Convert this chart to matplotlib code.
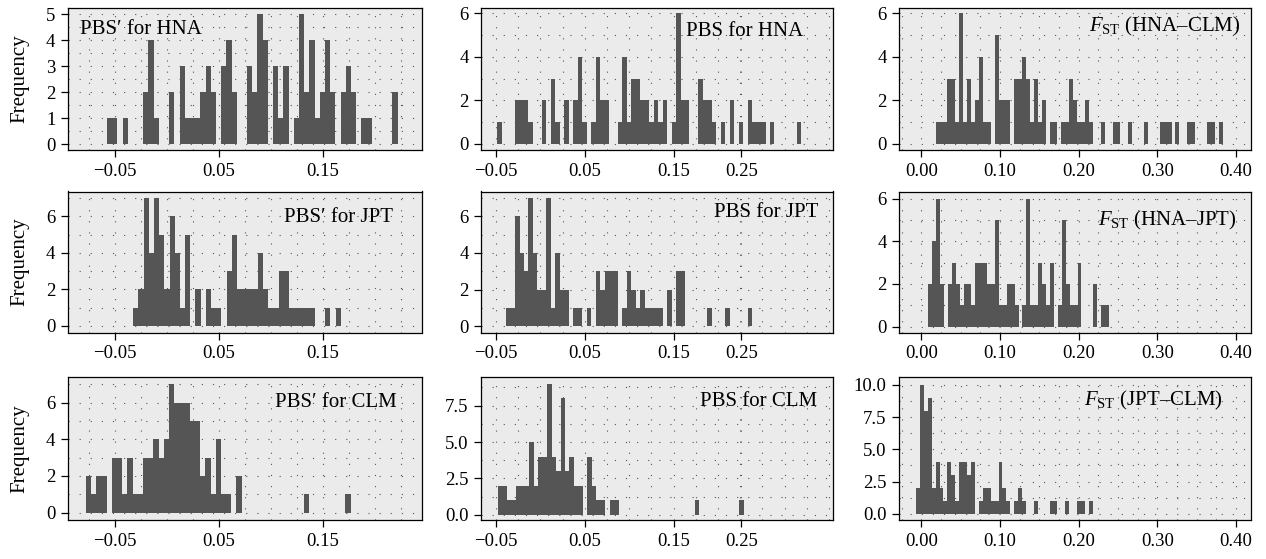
import numpy as np
import matplotlib
matplotlib.use("Agg")
import matplotlib.pyplot as plt
from matplotlib.ticker import MultipleLocator, FormatStrFormatter

plt.rcParams['font.family'] = ['Liberation Serif', 'DejaVu Serif']
plt.rcParams['mathtext.fontset'] = 'custom'
plt.rcParams['mathtext.rm'] = 'Liberation Serif'
plt.rcParams['mathtext.it'] = 'Liberation Serif:italic'

# histogram counts, one value per bin, starting at the given left edge
pbsp_hna_start, pbsp_hna_width = -0.0578, 0.005
pbsp_hna = [1, 1, 0, 1, 0, 0, 0, 2, 4, 1,
            0, 0, 2, 0, 3, 1, 1, 1, 2, 3,
            2, 0, 3, 4, 2, 0, 0, 3, 2, 5,
            4, 0, 3, 1, 3, 0, 1, 5, 2, 4,
            1, 2, 4, 2, 0, 2, 3, 2, 0, 1,
            1, 0, 0, 0, 0, 2]

pbs_hna_start, pbs_hna_width = -0.0489, 0.00504
pbs_hna = [1, 0, 0, 0, 2, 2, 2, 1, 0, 0,
           2, 0, 3, 1, 0, 2, 0, 2, 4, 1,
           0, 1, 4, 2, 2, 0, 0, 1, 4, 1,
           3, 3, 2, 2, 1, 2, 1, 2, 0, 1,
           6, 2, 2, 0, 0, 3, 2, 2, 1, 0,
           1, 0, 2, 0, 1, 0, 2, 1, 1, 1,
           0, 1, 0, 0, 0, 0, 0, 1]

fst_hna_clm_start, fst_hna_clm_width = 0.018, 0.005
fst_hna_clm = [1, 1, 1, 3, 3, 1, 6, 1, 3, 1,
               2, 4, 1, 1, 0, 5, 2, 2, 2, 0,
               3, 3, 4, 3, 1, 3, 1, 2, 0, 1,
               1, 0, 1, 1, 3, 2, 1, 1, 2, 1,
               0, 0, 1, 0, 0, 1, 1, 0, 0, 1,
               0, 0, 0, 1, 0, 0, 0, 1, 1, 1,
               0, 1, 0, 0, 1, 1, 0, 0, 0, 1,
               1, 0, 1]

pbsp_jpt_start, pbsp_jpt_width = -0.0325, 0.005
pbsp_jpt = [1, 2, 7, 4, 7, 5, 2, 6, 4, 1,
            5, 0, 2, 0, 2, 1, 1, 0, 3, 5,
            2, 2, 2, 2, 4, 2, 1, 1, 3, 3,
            1, 1, 1, 1, 1, 0, 0, 1, 0, 1]

pbs_jpt_start, pbs_jpt_width = -0.0387, 0.00504
pbs_jpt = [1, 1, 6, 4, 3, 7, 4, 2, 2, 7,
           1, 4, 2, 2, 0, 1, 1, 0, 1, 0,
           3, 2, 3, 3, 3, 0, 1, 3, 2, 1,
           2, 1, 1, 1, 1, 0, 2, 0, 3, 3,
           0, 0, 0, 0, 0, 1, 0, 0, 0, 1,
           0, 0, 0, 0, 1]

fst_hna_jpt_start, fst_hna_jpt_width = 0.0085, 0.005
fst_hna_jpt = [2, 4, 6, 2, 0, 2, 3, 2, 1, 2,
               2, 1, 3, 3, 3, 2, 2, 5, 1, 1,
               2, 2, 1, 0, 1, 6, 1, 1, 3, 2,
               1, 3, 0, 1, 5, 2, 1, 1, 3, 0,
               0, 0, 2, 0, 1, 1]

pbsp_clm_start, pbsp_clm_width = -0.0780, 0.005
pbsp_clm = [2, 1, 2, 2, 0, 3, 3, 1, 3, 1,
            1, 3, 3, 4, 3, 4, 7, 6, 6, 6,
            5, 5, 2, 3, 1, 4, 1, 1, 0, 2,
            0, 0, 0, 0, 0, 0, 0, 0, 0, 0,
            0, 0, 1, 0, 0, 0, 0, 0, 0, 0,
            1]

pbs_clm_start, pbs_clm_width = -0.0480, 0.00504
pbs_clm = [2, 2, 1, 1, 2, 2, 2, 5, 2, 4,
           4, 9, 4, 3, 8, 3, 4, 2, 2, 0,
           4, 2, 1, 1, 0, 1, 1, 0, 0, 0,
           0, 0, 0, 0, 0, 0, 0, 0, 0, 0,
           0, 0, 0, 0, 1, 0, 0, 0, 0, 0,
           0, 0, 0, 0, 1]

fst_jpt_clm_start, fst_jpt_clm_width = -0.0070, 0.005
fst_jpt_clm = [2, 10, 8, 9, 2, 4, 2, 1, 4, 3,
               1, 4, 4, 3, 4, 0, 1, 2, 2, 1,
               1, 4, 2, 1, 0, 1, 2, 1, 0, 0,
               1, 0, 0, 0, 1, 1, 0, 0, 1, 0,
               0, 1, 1, 0, 1]

titles = [["PBS\u2032 for HNA", "PBS for HNA", "$F_{\\mathrm{ST}}$ (HNA\u2013CLM)"],
          ["PBS\u2032 for JPT", "PBS for JPT", "$F_{\\mathrm{ST}}$ (HNA\u2013JPT)"],
          ["PBS\u2032 for CLM", "PBS for CLM", "$F_{\\mathrm{ST}}$ (JPT\u2013CLM)"]]

data = [[(pbsp_hna, pbsp_hna_start, pbsp_hna_width),
         (pbs_hna, pbs_hna_start, pbs_hna_width),
         (fst_hna_clm, fst_hna_clm_start, fst_hna_clm_width)],
        [(pbsp_jpt, pbsp_jpt_start, pbsp_jpt_width),
         (pbs_jpt, pbs_jpt_start, pbs_jpt_width),
         (fst_hna_jpt, fst_hna_jpt_start, fst_hna_jpt_width)],
        [(pbsp_clm, pbsp_clm_start, pbsp_clm_width),
         (pbs_clm, pbs_clm_start, pbs_clm_width),
         (fst_jpt_clm, fst_jpt_clm_start, fst_jpt_clm_width)]]

# x axis per column: limits, tick positions, tick labels
col_xlim = [(-0.0953, 0.2457), (-0.067, 0.3295), (-0.0285, 0.419)]
col_xticks = [[-0.05, 0.05, 0.15],
              [-0.05, 0.05, 0.15, 0.2262],
              [0.0, 0.1, 0.2, 0.3, 0.4]]
col_xlabels = [["\u22120.05", "0.05", "0.15"],
               ["\u22120.05", "0.05", "0.15", "0.25"],
               ["0.00", "0.10", "0.20", "0.30", "0.40"]]

# y axis per panel: limits, major step, number format
ylims = [[(-0.23, 5.26), (-0.28, 6.26), (-0.28, 6.26)],
         [(-0.36, 7.36), (-0.35, 7.36), (-0.28, 6.34)],
         [(-0.40, 7.40), (-0.35, 9.46), (-0.47, 10.6)]]
ysteps = [[1, 2, 2], [2, 2, 2], [2, 2.5, 2.5]]
yfmts = [["%d", "%d", "%d"], ["%d", "%d", "%d"], ["%d", "%.1f", "%.1f"]]

# label placement (axes fraction)
txt_pos = [[(0.035, 0.915, 'left'), (0.916, 0.895, 'right'), (0.969, 0.945, 'right')],
           [(0.919, 0.885, 'right'), (0.959, 0.92, 'right'), (0.959, 0.875, 'right')],
           [(0.929, 0.885, 'right'), (0.955, 0.895, 'right'), (0.921, 0.915, 'right')]]

W, H = 1266, 559
cols_px = [(68, 422), (481, 833), (899, 1251)]
rows_px = [(7.5, 150), (191.5, 332.5), (377, 520)]

bar_color = '#555555'
bg_color = '#ebebeb'

fig = plt.figure(figsize=(W / 100, H / 100), dpi=100)

for r in range(3):
    for c in range(3):
        l, rr = cols_px[c]
        t, b = rows_px[r]
        ax = fig.add_axes([l / W, 1 - b / H, (rr - l) / W, (b - t) / H])
        ax.set_facecolor(bg_color)

        counts, start, width = data[r][c]
        counts = np.array(counts)
        edges = start + width * np.arange(len(counts))
        keep = counts > 0
        ax.bar(edges[keep], counts[keep], width=width, align='edge',
               color=bar_color, linewidth=0, zorder=3)

        ax.set_xlim(col_xlim[c])
        ax.set_ylim(ylims[r][c])
        ax.set_xticks(col_xticks[c], col_xlabels[c])
        ax.xaxis.set_minor_locator(MultipleLocator(0.025))
        ax.yaxis.set_major_locator(MultipleLocator(ysteps[r][c]))
        ax.yaxis.set_minor_locator(MultipleLocator(ysteps[r][c] / 2))
        ax.yaxis.set_major_formatter(FormatStrFormatter(yfmts[r][c]))

        ax.grid(True, which='both', color='#555555', linewidth=0.8,
                linestyle=(0, (1, 9)), zorder=0)
        ax.set_axisbelow(True)

        ax.tick_params(which='major', direction='out', length=5, width=0.9,
                       labelsize=13.5, pad=4)
        ax.tick_params(which='minor', length=0)
        for sp in ax.spines.values():
            sp.set_linewidth(0.9)
            sp.set_color('black')

        x, y, ha = txt_pos[r][c]
        ax.text(x, y, titles[r][c], transform=ax.transAxes, ha=ha, va='top',
                fontsize=15, zorder=5)

        if c == 0:
            ax.set_ylabel("Frequency", fontsize=15)
            ax.yaxis.set_label_coords(-0.11, 0.5)

fig.savefig("out.png", dpi=100)
